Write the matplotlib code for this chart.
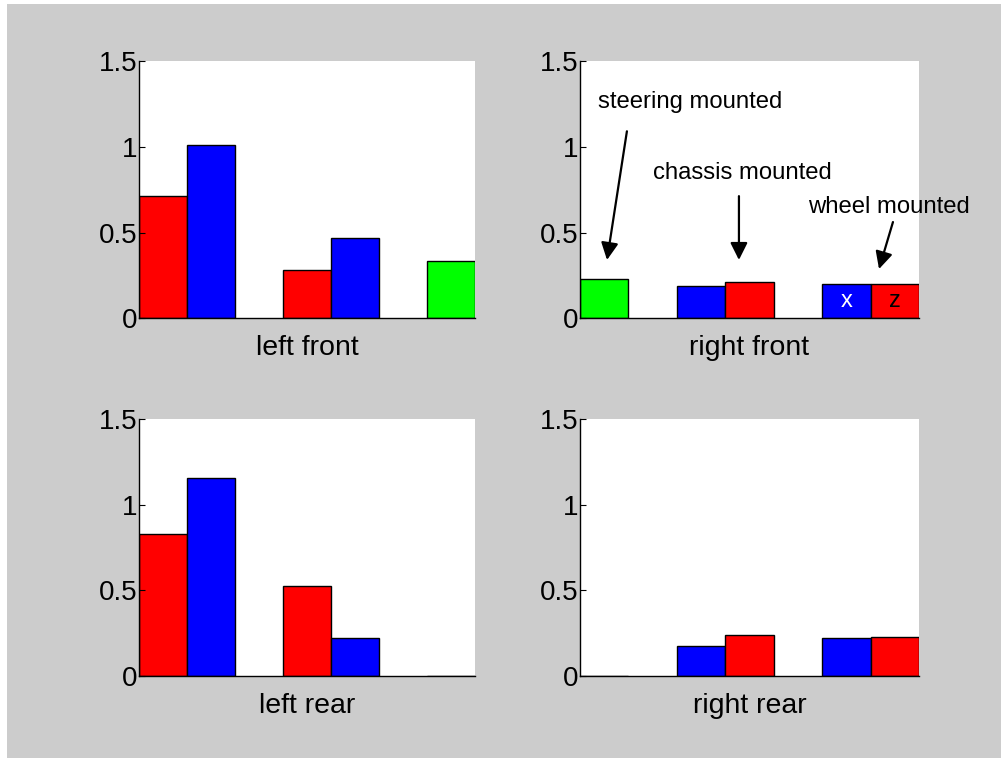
import matplotlib.pyplot as plt
import numpy as np
from matplotlib.patches import Rectangle

plt.rcParams["font.family"] = ["Liberation Sans", "DejaVu Sans"]

RED = "#ff0000"
BLUE = "#0000ff"
GREEN = "#00ff00"

groups = np.array([1, 2, 3])
bar_w = 1 / 3

# left / right bar of each group, with its colour
lf_left = [0.71, 0.28, 0.335]
lf_left_colors = [RED, RED, GREEN]
lf_right = [1.01, 0.47, 0.0]
lf_right_colors = [BLUE, BLUE, BLUE]

rf_left = [0.0, 0.19, 0.198]
rf_left_colors = [BLUE, BLUE, BLUE]
rf_right = [0.229, 0.21, 0.198]
rf_right_colors = [GREEN, RED, RED]

lr_left = [0.827, 0.525, 0.0]
lr_left_colors = [RED, RED, RED]
lr_right = [1.154, 0.22, 0.0]
lr_right_colors = [BLUE, BLUE, BLUE]

rr_left = [0.0, 0.177, 0.22]
rr_left_colors = [BLUE, BLUE, BLUE]
rr_right = [0.0, 0.239, 0.23]
rr_right_colors = [RED, RED, RED]

yticks = [0, 0.5, 1, 1.5]
ytick_labels = ["0", "0.5", "1", "1.5"]

fig = plt.figure(figsize=(10.01, 7.58), dpi=100)
fig.patch.set_facecolor("white")
fig.patches.append(Rectangle((7 / 1001, 0), 1, (758 - 4) / 758,
                             transform=fig.transFigure, facecolor="#cccccc",
                             edgecolor="none", zorder=-10))

panels = [
    ("left front", lf_left, lf_left_colors, lf_right, lf_right_colors,
     [0.1389, 0.5801, 0.3357, 0.3395], (1 - bar_w, 3)),
    ("right front", rf_left, rf_left_colors, rf_right, rf_right_colors,
     [0.5794, 0.5801, 0.3387, 0.3395], (1, 3 + bar_w)),
    ("left rear", lr_left, lr_left_colors, lr_right, lr_right_colors,
     [0.1389, 0.1082, 0.3357, 0.3390], (1 - bar_w, 3)),
    ("right rear", rr_left, rr_left_colors, rr_right, rr_right_colors,
     [0.5794, 0.1082, 0.3387, 0.3390], (1, 3 + bar_w)),
]

axes = []
for label, lvals, lcols, rvals, rcols, rect, xlim in panels:
    ax = fig.add_axes(rect)
    ax.set_facecolor("white")
    ax.bar(groups - bar_w, lvals, bar_w, align="edge", color=lcols,
           edgecolor="black", linewidth=1)
    ax.bar(groups, rvals, bar_w, align="edge", color=rcols,
           edgecolor="black", linewidth=1)
    ax.set_xlim(*xlim)
    ax.set_ylim(0, 1.5)
    ax.set_yticks(yticks)
    ax.set_yticklabels(ytick_labels)
    ax.set_xticks([])
    ax.tick_params(axis="y", direction="in", length=4, pad=1, labelsize=20)
    for side in ("top", "right"):
        ax.spines[side].set_visible(False)
    for side in ("left", "bottom"):
        ax.spines[side].set_linewidth(1)
    ax.set_xlabel(label, fontsize=20.5, labelpad=12)
    axes.append(ax)

ax = axes[1]
arrow = dict(arrowstyle="-|>", mutation_scale=26, lw=1.6, color="black",
             shrinkA=0, shrinkB=0)
ax.text(1.124, 1.26, "steering mounted", fontsize=17.2, va="center",
        ha="left")
ax.annotate("", xy=(1.186, 0.34), xytext=(1.323, 1.09), arrowprops=arrow)
ax.text(1.502, 0.846, "chassis mounted", fontsize=17.2, va="center",
        ha="left")
ax.annotate("", xy=(2.094, 0.34), xytext=(2.094, 0.712), arrowprops=arrow)
ax.text(2.569, 0.648, "wheel mounted", fontsize=17.2, va="center",
        ha="left", clip_on=False)
ax.annotate("", xy=(3.058, 0.287), xytext=(3.154, 0.561), arrowprops=arrow,
            annotation_clip=False)
ax.text(3 - bar_w / 2, rf_left[2] / 2, "x", color="white", fontsize=17,
        ha="center", va="center")
ax.text(3 + bar_w / 2, rf_right[2] / 2, "z", color="black", fontsize=17,
        ha="center", va="center")

fig.savefig("out.png", dpi=100, facecolor=fig.get_facecolor())
